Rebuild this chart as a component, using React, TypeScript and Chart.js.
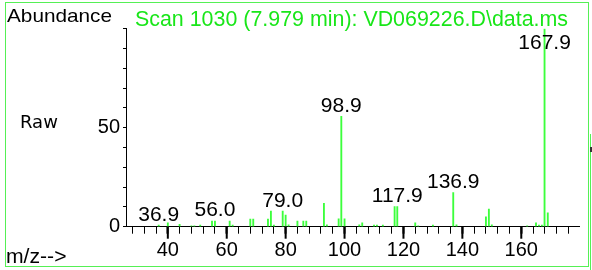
import React, { useEffect, useRef } from 'react';
import { Chart, registerables } from 'chart.js';

Chart.register(...registerables);

// ---- data ----
const masses = [36.9, 40, 44, 48, 49, 51, 55, 56.0, 61, 62, 68, 69, 74, 75, 76, 79.0, 80, 81, 84, 86, 87, 93, 94, 98, 98.9, 100, 105, 106, 110, 111, 113, 117, 117.9, 124, 125, 130, 136.9, 138, 148, 149, 150, 162, 165, 166, 167, 167.9, 169];
const abundances = [0.8, 2.0, 1.2, 0.4, 0.5, 0.8, 2.9, 2.9, 2.9, 0.8, 3.9, 3.9, 3.9, 7.9, 0.8, 7.9, 5.9, 1.0, 2.9, 2.9, 2.9, 11.8, 1.0, 4.0, 55.8, 4.0, 1.0, 2.0, 0.8, 0.8, 0.8, 10.1, 10.1, 2.0, 0.5, 0.8, 17.2, 1.0, 5.0, 8.9, 1.0, 0.5, 2.0, 0.8, 0.8, 100, 7.0];
const peakLabelMasses = [36.9, 56.0, 79.0, 98.9, 117.9, 136.9, 167.9];
const peakLabelTexts = ['36.9', '56.0', '79.0', '98.9', '117.9', '136.9', '167.9'];
const xMin = 25.8;
const xMax = 179.7;
const xTickStep = 4;
const xLabelStep = 20;
const yMin = 0;
const yMax = 100;
const yTickStep = 10;
const yLabelValues = [0, 50];
const titleText = 'Scan 1030 (7.979 min): VD069226.D\\data.ms';
const yAxisTitle = 'Abundance';
const xAxisTitle = 'm/z-->';
const sideText = 'Raw';

const SANS = '"Liberation Sans", Arial, sans-serif';
const GREEN_BAR = '#3cff3c';
const GREEN_TEXT = '#19e619';
const GREEN_BORDER = '#55f055';

function fitText(ctx: CanvasRenderingContext2D, text: string, x: number, y: number, font: string, width: number) {
  ctx.save();
  ctx.font = font;
  const w = ctx.measureText(text).width;
  ctx.translate(x, y);
  ctx.scale(width / w, 1);
  ctx.fillText(text, 0, 0);
  ctx.restore();
}

const decorPlugin = {
  id: 'decor',
  afterDatasetsDraw(chart: any) {
    const ctx: CanvasRenderingContext2D = chart.ctx;
    const xs = chart.scales.x;
    const ys = chart.scales.y;
    const area = chart.chartArea;
    ctx.save();
    ctx.fillStyle = '#000';
    ctx.font = `21px ${SANS}`;
    ctx.textAlign = 'center';
    ctx.textBaseline = 'alphabetic';
    peakLabelMasses.forEach((m, i) => {
      const idx = masses.indexOf(m);
      const ab = idx >= 0 ? abundances[idx] : 0;
      const px = xs.getPixelForValue(m);
      const top = ys.getPixelForValue(ab);
      const base = Math.max(top - 4.5, area.top + 20);
      ctx.fillText(peakLabelTexts[i], px, base);
    });
    ctx.restore();
  },
  afterDraw(chart: any) {
    const ctx: CanvasRenderingContext2D = chart.ctx;
    const xs = chart.scales.x;
    const area = chart.chartArea;
    ctx.save();
    // longer major ticks
    ctx.strokeStyle = '#000';
    ctx.lineWidth = 2;
    xs.ticks.forEach((t: any) => {
      if (Math.abs(t.value % xLabelStep) < 1e-6) {
        const px = xs.getPixelForValue(t.value);
        ctx.beginPath();
        ctx.moveTo(px, area.bottom);
        ctx.lineTo(px, area.bottom + 12);
        ctx.stroke();
      }
    });
    // frame
    ctx.strokeStyle = GREEN_BORDER;
    ctx.lineWidth = 1;
    ctx.strokeRect(5.5, 2.5, 583, 264);
    ctx.beginPath();
    ctx.moveTo(590.5, 134);
    ctx.lineTo(590.5, 270);
    ctx.stroke();
    ctx.fillStyle = '#333';
    ctx.fillRect(590, 147, 2, 5);
    // texts
    ctx.textAlign = 'left';
    ctx.textBaseline = 'alphabetic';
    ctx.fillStyle = '#000';
    fitText(ctx, yAxisTitle, 7, 21.5, `19px ${SANS}`, 105);
    ctx.fillStyle = GREEN_TEXT;
    fitText(ctx, titleText, 135, 25.5, `22px ${SANS}`, 433);
    ctx.fillStyle = '#000';
    ctx.font = `18px "DejaVu Sans", sans-serif`;
    ctx.fillText(sideText, 20, 128);
    fitText(ctx, xAxisTitle, 6, 262.5, `20px ${SANS}`, 60.5);
    ctx.restore();
  },
};

export default function App() {
  const ref = useRef<HTMLCanvasElement>(null);
  useEffect(() => {
    const canvas = ref.current!;
    const chart = new Chart(canvas, {
      type: 'bar',
      data: {
        datasets: [
          {
            data: masses.map((m, i) => ({ x: m, y: abundances[i] })),
            backgroundColor: GREEN_BAR,
            borderWidth: 0,
            barThickness: 1.2,
            grouped: false,
          } as any,
        ],
      },
      options: {
        responsive: false,
        animation: false,
        devicePixelRatio: 1,
        layout: { padding: { left: 0, top: 28.7, right: 12.7, bottom: 0 } },
        plugins: { legend: { display: false }, tooltip: { enabled: false }, title: { display: false } },
        scales: {
          x: {
            type: 'linear',
            min: xMin,
            max: xMax,
            offset: false,
            afterFit: (s: any) => { s.height = 43.3; },
            grid: {
              display: true,
              drawOnChartArea: false,
              drawTicks: true,
              tickLength: 7,
              tickColor: '#000',
              tickWidth: (c: any) => (c.tick && Math.abs(c.tick.value % xLabelStep) < 1e-6 ? 2 : 1),
              offset: false,
            },
            border: { display: true, color: '#000', width: 1 },
            ticks: {
              stepSize: xTickStep,
              includeBounds: false,
              autoSkip: false,
              maxRotation: 0,
              minRotation: 0,
              padding: 5,
              color: '#000',
              font: { family: SANS, size: 20 },
              callback: (v: any) => (Math.abs(Number(v) % xLabelStep) < 1e-6 ? String(Math.round(Number(v))) : ''),
            },
          },
          y: {
            type: 'linear',
            min: yMin,
            max: yMax,
            afterFit: (s: any) => { s.width = 126; },
            grid: {
              display: true,
              drawOnChartArea: false,
              drawTicks: true,
              tickLength: 3,
              tickColor: '#000',
            },
            border: { display: true, color: '#000', width: 1 },
            ticks: {
              stepSize: yTickStep,
              autoSkip: false,
              padding: 3,
              color: '#000',
              font: { family: SANS, size: 20 },
              callback: (v: any) => (yLabelValues.includes(Number(v)) ? String(v) : ''),
            },
          },
        },
      } as any,
      plugins: [decorPlugin],
    });
    return () => chart.destroy();
  }, []);
  return (
    <div style={{ position: 'fixed', left: 0, top: 0, width: 592, height: 270, background: '#fff' }}>
      <canvas ref={ref} width={592} height={270} style={{ display: 'block', width: 592, height: 270 }} />
    </div>
  );
}
